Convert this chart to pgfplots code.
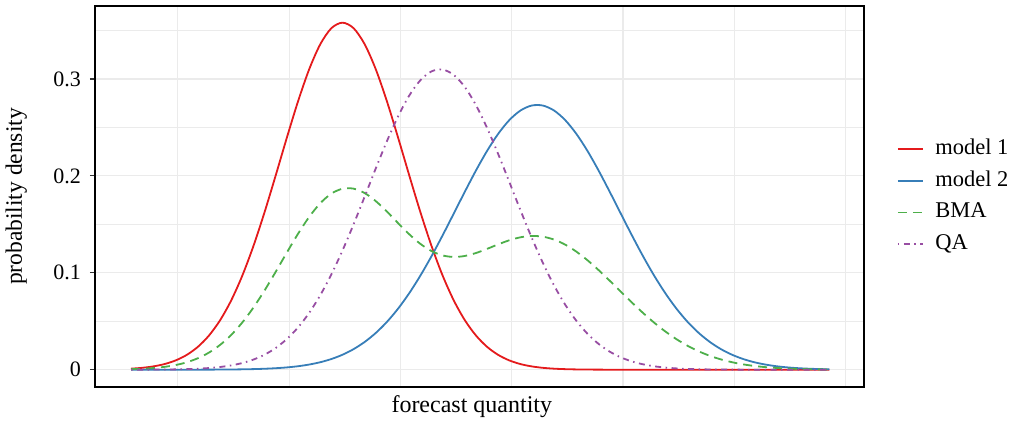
\documentclass[border=0pt]{standalone}
\usepackage{pgfplots}
\pgfplotsset{compat=1.18}
\usepackage{pgfplotstable}
\usepackage{fontspec}
\setmainfont{Liberation Serif}
\definecolor{setred}{HTML}{E41A1C}
\definecolor{setblue}{HTML}{377EB8}
\definecolor{setgreen}{HTML}{4DAF4A}
\definecolor{setpurple}{HTML}{984EA3}
\definecolor{gridc}{HTML}{EBEBEB}
\definecolor{tickc}{HTML}{333333}
\pgfplotstableread{
x m1 m2 bma qa
-3.8 0.00106 0 0.00053 0.00003
-3.6 0.00193 0 0.00097 0.00005
-3.4 0.00340 0 0.00170 0.00010
-3.2 0.00578 0.00001 0.00290 0.00019
-3.0 0.00953 0.00001 0.00477 0.00034
-2.8 0.01521 0.00002 0.00762 0.00060
-2.6 0.02351 0.00004 0.01178 0.00102
-2.4 0.03517 0.00008 0.01763 0.00171
-2.2 0.05095 0.00013 0.02554 0.00279
-2.0 0.07147 0.00023 0.03585 0.00444
-1.8 0.09707 0.00038 0.04873 0.00690
-1.6 0.12767 0.00061 0.06414 0.01047
-1.4 0.16258 0.00098 0.08178 0.01551
-1.2 0.20048 0.00154 0.10101 0.02241
-1.0 0.23936 0.00236 0.12086 0.03162
-0.8 0.27672 0.00357 0.14015 0.04354
-0.6 0.30977 0.00530 0.15754 0.05853
-0.4 0.33576 0.00771 0.17174 0.07680
-0.2 0.35239 0.01101 0.18170 0.09836
0.0 0.35812 0.01544 0.18678 0.12298
0.2 0.35239 0.02124 0.18682 0.15010
0.4 0.33576 0.02868 0.18222 0.17882
0.6 0.30977 0.03800 0.17389 0.20795
0.8 0.27672 0.04942 0.16307 0.23606
1.0 0.23936 0.06308 0.15122 0.26157
1.2 0.20048 0.07901 0.13975 0.28293
1.4 0.16258 0.09712 0.12985 0.29873
1.6 0.12767 0.11717 0.12242 0.30788
1.8 0.09707 0.13873 0.11790 0.30975
2.0 0.07147 0.16120 0.11634 0.30419
2.2 0.05095 0.18382 0.11739 0.29160
2.4 0.03517 0.20573 0.12045 0.27286
2.6 0.02351 0.22597 0.12474 0.24924
2.8 0.01521 0.24358 0.12940 0.22223
3.0 0.00953 0.25769 0.13361 0.19342
3.2 0.00578 0.26754 0.13666 0.16432
3.4 0.00340 0.27261 0.13801 0.13628
3.6 0.00193 0.27261 0.13727 0.11032
3.8 0.00106 0.26754 0.13430 0.08718
4.0 0.00057 0.25769 0.12913 0.06724
4.2 0.00029 0.24358 0.12194 0.05063
4.4 0.00015 0.22597 0.11306 0.03721
4.6 0.00007 0.20573 0.10290 0.02670
4.8 0.00003 0.18382 0.09193 0.01870
5.0 0.00001 0.16120 0.08061 0.01278
5.2 0 0.13873 0.06937 0.00853
5.4 0 0.11717 0.05859 0.00556
5.6 0 0.09712 0.04856 0.00353
5.8 0 0.07901 0.03951 0.00219
6.0 0 0.06308 0.03154 0.00133
6.2 0 0.04942 0.02471 0.00079
6.4 0 0.03800 0.01900 0.00045
6.6 0 0.02868 0.01434 0.00026
6.8 0 0.02124 0.01062 0.00014
7.0 0 0.01544 0.00772 0.00008
7.2 0 0.01101 0.00551 0.00004
7.4 0 0.00771 0.00386 0.00002
7.6 0 0.00530 0.00265 0.00001
7.8 0 0.00357 0.00179 0
8.0 0 0.00236 0.00118 0
8.2 0 0.00154 0.00077 0
8.4 0 0.00098 0.00049 0
8.6 0 0.00061 0.00031 0
8.75 0 0.00043 0.00022 0
}\densities
\begin{document}
\begin{tikzpicture}
\path[use as bounding box] (-95pt,-38pt) rectangle (923pt,387pt);
\begin{axis}[
  at={(0pt,0pt)}, anchor=south west,
  scale only axis, width=769pt, height=381pt,
  xmin=-4.447, xmax=9.371, ymin=-0.01785, ymax=0.37533,
  xtick={-2.96,-0.96,1.04,3.04,5.04,7.04,9.04}, xticklabels={},
  x tick style={draw=none},
  ytick={0,0.1,0.2,0.3}, yticklabels={0,0.1,0.2,0.3},
  ytick pos=left,
  minor ytick={0.05,0.15,0.25,0.35},
  minor y tick style={draw=none},
  y tick style={tickc, line width=1.1pt},
  tick align=outside, major tick length=5pt,
  xmajorgrids, ymajorgrids, yminorgrids,
  major grid style={gridc, line width=1.1pt},
  minor grid style={gridc, line width=1.1pt},
  axis line style={black, line width=1.5pt},
  tick label style={font=\fontsize{22}{24}\selectfont},
  yticklabel style={anchor=east, inner sep=0pt, xshift=-9pt},
  xlabel={forecast quantity}, ylabel={probability density},
  xlabel style={at={(axis description cs:0.49,-0.066)}, anchor=base, inner sep=0pt, font=\fontsize{24}{26}\selectfont},
  ylabel style={at={(axis description cs:-0.0884,0.5)}, anchor=south, inner sep=0pt, font=\fontsize{23.5}{26}\selectfont},
  legend style={at={(axis description cs:1.0425,0.4995)}, anchor=west, draw=none, fill=none, inner sep=0pt,
    font=\fontsize{22.5}{24}\selectfont, row sep=12.6pt,
    nodes={inner sep=0pt, text height=15pt, text depth=4pt},
    /tikz/every odd column/.append style={column sep=11pt}},
  legend cell align=left,
  legend image code/.code={\draw[#1] (0pt,0pt) -- (25.6pt,0pt);},
]
\addplot[color=setred, line width=1.8pt, smooth] table[x=x, y=m1]{\densities};
\addlegendentry{model 1}
\addplot[color=setblue, line width=1.8pt, smooth] table[x=x, y=m2]{\densities};
\addlegendentry{model 2}
\addplot[color=setgreen, line width=1.8pt, dash pattern=on 9pt off 6pt, smooth] table[x=x, y=bma]{\densities};
\addlegendentry{BMA}
\addplot[color=setpurple, line width=1.8pt, dash pattern=on 1.5pt off 4.5pt on 6pt off 4.5pt, smooth] table[x=x, y=qa]{\densities};
\addlegendentry{QA}
\end{axis}
\end{tikzpicture}
\end{document}
